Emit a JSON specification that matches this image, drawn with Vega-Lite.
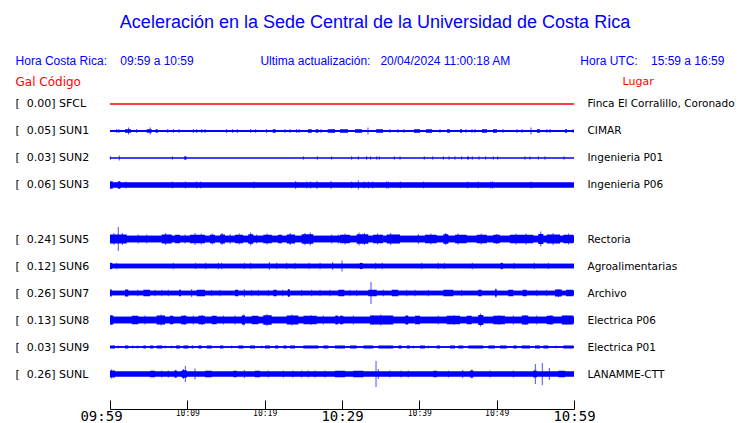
{
"$schema": "https://vega.github.io/schema/vega-lite/v6.json",
"width": 464,
"height": 298,
"padding": {"left": 15, "top": 14, "right": 0, "bottom": 0},
"background": "white",
"config": {"view": {"stroke": null}},
"title": {
 "text": "Aceleración en la Sede Central de la Universidad de Costa Rica",
 "subtitle": "Hora Costa Rica:\u00a0\u00a0\u00a0\u00a009:59 a 10:59\u00a0\u00a0\u00a0\u00a0\u00a0\u00a0\u00a0\u00a0\u00a0\u00a0\u00a0\u00a0\u00a0\u00a0\u00a0\u00a0\u00a0\u00a0\u00a0\u00a0Ultima actualización:\u00a0\u00a0\u00a020/04/2024 11:00:18 AM\u00a0\u00a0\u00a0\u00a0\u00a0\u00a0\u00a0\u00a0\u00a0\u00a0\u00a0\u00a0\u00a0\u00a0\u00a0\u00a0\u00a0\u00a0\u00a0\u00a0\u00a0Hora UTC:\u00a0\u00a0\u00a0\u00a015:59 a 16:59\u00a0\u00a0\u00a0\u2060",
 "font": "Liberation Sans", "fontSize": 18, "fontWeight": "normal", "color": "#0000ff",
 "subtitleFont": "Liberation Sans", "subtitleFontSize": 12, "subtitleColor": "#0000ff",
 "subtitlePadding": 24, "anchor": "middle", "offset": 8, "dx": 33
},
"datasets": {
 "stations": [
  {"i":0,"s":"SFCL","gal":0.00,"lugar":"Finca El Corralillo, Coronado","base":1},
  {"i":1,"s":"SUN1","gal":0.05,"lugar":"CIMAR","base":2},
  {"i":2,"s":"SUN2","gal":0.03,"lugar":"Ingenieria P01","base":1.2},
  {"i":3,"s":"SUN3","gal":0.06,"lugar":"Ingenieria P06","base":5},
  {"i":4,"s":"SUN4","gal":null,"lugar":"","base":0},
  {"i":5,"s":"SUN5","gal":0.24,"lugar":"Rectoria","base":6.5},
  {"i":6,"s":"SUN6","gal":0.12,"lugar":"Agroalimentarias","base":4.5},
  {"i":7,"s":"SUN7","gal":0.26,"lugar":"Archivo","base":4.5},
  {"i":8,"s":"SUN8","gal":0.13,"lugar":"Electrica P06","base":6.5},
  {"i":9,"s":"SUN9","gal":0.03,"lugar":"Electrica P01","base":1.5},
  {"i":10,"s":"SUNL","gal":0.26,"lugar":"LANAMME-CTT","base":5}
 ],
 "segs": [
  {"s":"SUN1","a":1.94,"b":2.72,"h":3.5},{"s":"SUN1","a":4.75,"b":5.39,"h":3.5},{"s":"SUN1","a":5.91,"b":6.17,"h":3.5},
  {"s":"SUN1","a":21.04,"b":21.43,"h":3.5},{"s":"SUN1","a":25.6,"b":26.08,"h":3.5},{"s":"SUN1","a":26.6,"b":26.94,"h":3.5},
  {"s":"SUN1","a":28.15,"b":29.1,"h":3.5},{"s":"SUN1","a":29.74,"b":30.78,"h":3.5},{"s":"SUN1","a":31.68,"b":32.59,"h":3.5},
  {"s":"SUN1","a":34.4,"b":35.3,"h":3.5},{"s":"SUN1","a":39.3,"b":40.1,"h":3.5},{"s":"SUN1","a":40.86,"b":41.64,"h":3.5},
  {"s":"SUN1","a":43.58,"b":43.97,"h":3.5},{"s":"SUN1","a":45.26,"b":45.52,"h":3.5},{"s":"SUN1","a":48.1,"b":48.75,"h":3.5},
  {"s":"SUN1","a":49.53,"b":50.04,"h":3.5},{"s":"SUN1","a":55.2,"b":55.6,"h":3.5},{"s":"SUN1","a":58.84,"b":59.1,"h":3.5},
  {"s":"SUN2","a":9.61,"b":9.87,"h":3.5},{"s":"SUN2","a":33.1,"b":33.25,"h":3},{"s":"SUN2","a":46.2,"b":46.4,"h":3},
  {"s":"SUN3","a":0,"b":0.4,"h":7},{"s":"SUN3","a":1.0,"b":1.35,"h":7},
  {"s":"SUN5","a":0,"b":2.16,"h":9},{"s":"SUN5","a":6.69,"b":7.98,"h":9},{"s":"SUN5","a":8.41,"b":9.05,"h":8.5},
  {"s":"SUN5","a":10.34,"b":12.28,"h":8.5},{"s":"SUN5","a":12.93,"b":13.58,"h":8.5},{"s":"SUN5","a":14.22,"b":14.87,"h":9},
  {"s":"SUN5","a":16.16,"b":17.2,"h":8.5},{"s":"SUN5","a":17.88,"b":18.53,"h":9.5},{"s":"SUN5","a":19.82,"b":20.91,"h":8.5},
  {"s":"SUN5","a":21.72,"b":22.24,"h":8.5},{"s":"SUN5","a":22.85,"b":23.92,"h":9},{"s":"SUN5","a":24.79,"b":26.29,"h":9.5},
  {"s":"SUN5","a":29.74,"b":31.03,"h":8.5},{"s":"SUN5","a":31.9,"b":33.4,"h":9.5},{"s":"SUN5","a":34.01,"b":35.3,"h":8.5},
  {"s":"SUN5","a":35.78,"b":37.5,"h":9},{"s":"SUN5","a":40.73,"b":42.25,"h":8.5},{"s":"SUN5","a":43.1,"b":43.75,"h":9.5},
  {"s":"SUN5","a":44.61,"b":46.13,"h":8.5},{"s":"SUN5","a":47.42,"b":48.71,"h":8.5},{"s":"SUN5","a":49.56,"b":50.43,"h":8.5},
  {"s":"SUN5","a":51.72,"b":54.74,"h":8.5},{"s":"SUN5","a":55.38,"b":56.03,"h":10},{"s":"SUN5","a":56.47,"b":58.19,"h":9},
  {"s":"SUN5","a":58.62,"b":59.91,"h":8.5},
  {"s":"SUN6","a":0,"b":0.3,"h":6},{"s":"SUN6","a":32.3,"b":32.7,"h":6},{"s":"SUN6","a":50.5,"b":50.8,"h":6},
  {"s":"SUN7","a":0,"b":0.22,"h":7},{"s":"SUN7","a":1.94,"b":2.37,"h":7},{"s":"SUN7","a":4.31,"b":5.17,"h":6.5},
  {"s":"SUN7","a":8.92,"b":9.18,"h":6.5},{"s":"SUN7","a":11.21,"b":12.28,"h":6.5},{"s":"SUN7","a":16.16,"b":16.59,"h":6.5},
  {"s":"SUN7","a":21.12,"b":21.56,"h":6.5},{"s":"SUN7","a":22.98,"b":23.27,"h":7},{"s":"SUN7","a":29.52,"b":30.3,"h":6.5},
  {"s":"SUN7","a":33.4,"b":34.49,"h":6.5},{"s":"SUN7","a":36.43,"b":37.28,"h":6.5},{"s":"SUN7","a":43.1,"b":44.39,"h":6.5},
  {"s":"SUN7","a":47.62,"b":48.06,"h":6.5},{"s":"SUN7","a":49.78,"b":50.0,"h":7},{"s":"SUN7","a":51.5,"b":52.15,"h":6.5},
  {"s":"SUN7","a":53.36,"b":53.88,"h":6.5},{"s":"SUN7","a":57.54,"b":58.41,"h":7},{"s":"SUN7","a":58.97,"b":59.91,"h":6.5},
  {"s":"SUN8","a":0,"b":0.43,"h":9},{"s":"SUN8","a":2.81,"b":3.66,"h":8.5},{"s":"SUN8","a":6.04,"b":7.11,"h":9},
  {"s":"SUN8","a":7.76,"b":8.19,"h":8.5},{"s":"SUN8","a":9.18,"b":9.92,"h":8.5},{"s":"SUN8","a":11.42,"b":12.28,"h":8.5},
  {"s":"SUN8","a":13.15,"b":13.8,"h":8.5},{"s":"SUN8","a":17.03,"b":17.46,"h":9},{"s":"SUN8","a":18.32,"b":19.18,"h":8.5},
  {"s":"SUN8","a":19.82,"b":20.91,"h":9.5},{"s":"SUN8","a":22.85,"b":24.35,"h":9},{"s":"SUN8","a":25.0,"b":26.73,"h":8.5},
  {"s":"SUN8","a":29.09,"b":29.52,"h":8.5},{"s":"SUN8","a":29.74,"b":30.17,"h":8.5},{"s":"SUN8","a":33.62,"b":36.63,"h":9},
  {"s":"SUN8","a":38.15,"b":38.57,"h":8.5},{"s":"SUN8","a":39.44,"b":40.09,"h":8.5},{"s":"SUN8","a":43.54,"b":45.26,"h":8.5},
  {"s":"SUN8","a":46.13,"b":46.77,"h":8.5},{"s":"SUN8","a":47.62,"b":48.27,"h":10},{"s":"SUN8","a":49.56,"b":51.08,"h":8.5},
  {"s":"SUN8","a":53.24,"b":54.09,"h":9},{"s":"SUN8","a":56.47,"b":57.32,"h":8.5},{"s":"SUN8","a":58.41,"b":59.91,"h":9},
  {"s":"SUN9","a":0,"b":0.65,"h":3},{"s":"SUN9","a":1.94,"b":2.37,"h":3},{"s":"SUN9","a":4.31,"b":4.62,"h":3},
  {"s":"SUN9","a":5.17,"b":5.6,"h":3},{"s":"SUN9","a":6.04,"b":6.76,"h":3},{"s":"SUN9","a":8.53,"b":9.05,"h":3},
  {"s":"SUN9","a":9.48,"b":10.13,"h":3},{"s":"SUN9","a":10.56,"b":10.77,"h":3},{"s":"SUN9","a":11.42,"b":11.86,"h":3},
  {"s":"SUN9","a":12.5,"b":13.15,"h":3},{"s":"SUN9","a":14.22,"b":14.65,"h":3},{"s":"SUN9","a":16.59,"b":17.24,"h":3},
  {"s":"SUN9","a":18.1,"b":18.75,"h":3},{"s":"SUN9","a":20.04,"b":20.69,"h":3},{"s":"SUN9","a":21.34,"b":21.76,"h":3},
  {"s":"SUN9","a":22.41,"b":22.85,"h":3},{"s":"SUN9","a":23.27,"b":23.92,"h":3},{"s":"SUN9","a":25.0,"b":26.94,"h":3},
  {"s":"SUN9","a":27.58,"b":28.23,"h":3},{"s":"SUN9","a":29.09,"b":30.39,"h":3},{"s":"SUN9","a":31.03,"b":31.9,"h":3},
  {"s":"SUN9","a":32.76,"b":34.05,"h":3},{"s":"SUN9","a":34.69,"b":36.63,"h":3},{"s":"SUN9","a":37.28,"b":37.72,"h":3},
  {"s":"SUN9","a":38.37,"b":38.79,"h":3},{"s":"SUN9","a":40.09,"b":40.73,"h":3},{"s":"SUN9","a":42.25,"b":42.67,"h":3},
  {"s":"SUN9","a":43.97,"b":44.61,"h":3},{"s":"SUN9","a":45.04,"b":45.69,"h":3},{"s":"SUN9","a":46.33,"b":48.27,"h":3},
  {"s":"SUN9","a":48.92,"b":49.78,"h":3},{"s":"SUN9","a":50.43,"b":51.3,"h":3},{"s":"SUN9","a":52.15,"b":52.59,"h":3},
  {"s":"SUN9","a":53.24,"b":54.31,"h":3},{"s":"SUN9","a":54.96,"b":55.6,"h":3},{"s":"SUN9","a":56.03,"b":56.68,"h":3},
  {"s":"SUN9","a":58.62,"b":59.91,"h":3},
  {"s":"SUNL","a":0,"b":0.65,"h":7},{"s":"SUNL","a":5.17,"b":5.82,"h":6.5},{"s":"SUNL","a":8.31,"b":8.62,"h":7},
  {"s":"SUNL","a":9.27,"b":9.92,"h":7.5},{"s":"SUNL","a":12.28,"b":13.15,"h":6.5},{"s":"SUNL","a":15.94,"b":16.38,"h":6.5},
  {"s":"SUNL","a":18.75,"b":19.4,"h":6.5},{"s":"SUNL","a":29.09,"b":30.39,"h":6.5},{"s":"SUNL","a":31.46,"b":32.76,"h":6.5},
  {"s":"SUNL","a":41.81,"b":42.25,"h":6.5},{"s":"SUNL","a":46.55,"b":46.98,"h":7},{"s":"SUNL","a":54.74,"b":55.18,"h":7},
  {"s":"SUNL","a":57.97,"b":58.84,"h":6.5}
 ],
 "spikes": [
  {"s":"SUN1","t":0.87,"h":4},{"s":"SUN1","t":1.16,"h":4},{"s":"SUN1","t":2.4,"h":7},{"s":"SUN1","t":3.45,"h":4},
  {"s":"SUN1","t":5.2,"h":7},{"s":"SUN1","t":7.46,"h":4},{"s":"SUN1","t":8.19,"h":4},{"s":"SUN1","t":8.92,"h":4},
  {"s":"SUN1","t":10.77,"h":4},{"s":"SUN1","t":11.21,"h":4},{"s":"SUN1","t":11.86,"h":4},{"s":"SUN1","t":12.29,"h":4},
  {"s":"SUN1","t":15.09,"h":4},{"s":"SUN1","t":15.87,"h":4},{"s":"SUN1","t":16.46,"h":4},{"s":"SUN1","t":18.19,"h":4},
  {"s":"SUN1","t":18.84,"h":4},{"s":"SUN1","t":20.26,"h":4},{"s":"SUN1","t":22.63,"h":4},{"s":"SUN1","t":23.27,"h":4},
  {"s":"SUN1","t":24.14,"h":4},{"s":"SUN1","t":24.44,"h":4},{"s":"SUN1","t":27.28,"h":4},{"s":"SUN1","t":33.36,"h":7},
  {"s":"SUN1","t":36.2,"h":4},{"s":"SUN1","t":37.24,"h":4},{"s":"SUN1","t":38.0,"h":4},{"s":"SUN1","t":42.67,"h":4},
  {"s":"SUN1","t":46.03,"h":4},{"s":"SUN1","t":46.81,"h":4},{"s":"SUN1","t":47.2,"h":4},{"s":"SUN1","t":50.82,"h":4},
  {"s":"SUN1","t":52.63,"h":4},{"s":"SUN1","t":53.28,"h":4},{"s":"SUN1","t":54.44,"h":7},{"s":"SUN1","t":56.5,"h":4},
  {"s":"SUN1","t":56.9,"h":4},{"s":"SUN1","t":59.87,"h":4},
  {"s":"SUN2","t":0.04,"h":3.5},{"s":"SUN2","t":1.2,"h":5},{"s":"SUN2","t":8.06,"h":3.5},{"s":"SUN2","t":25.0,"h":3.5},
  {"s":"SUN2","t":26.81,"h":3.5},{"s":"SUN2","t":28.67,"h":3.5},{"s":"SUN2","t":31.25,"h":3.5},{"s":"SUN2","t":32.11,"h":3.5},
  {"s":"SUN2","t":33.71,"h":3.5},{"s":"SUN2","t":34.49,"h":3.5},{"s":"SUN2","t":34.82,"h":3.5},{"s":"SUN2","t":36.76,"h":3.5},
  {"s":"SUN2","t":37.5,"h":3.5},{"s":"SUN2","t":40.64,"h":3.5},{"s":"SUN2","t":41.73,"h":3.5},{"s":"SUN2","t":43.1,"h":3.5},
  {"s":"SUN2","t":43.84,"h":3.5},{"s":"SUN2","t":44.61,"h":3.5},{"s":"SUN2","t":45.48,"h":3.5},{"s":"SUN2","t":46.85,"h":3.5},
  {"s":"SUN2","t":47.72,"h":3.5},{"s":"SUN2","t":48.58,"h":3.5},{"s":"SUN2","t":49.56,"h":3.5},{"s":"SUN2","t":50.13,"h":3.5},
  {"s":"SUN2","t":53.66,"h":3.5},{"s":"SUN2","t":54.31,"h":3.5},{"s":"SUN2","t":55.38,"h":3.5},{"s":"SUN2","t":56.25,"h":3.5},
  {"s":"SUN2","t":58.71,"h":3.5},
  {"s":"SUN3","t":0.13,"h":8},{"s":"SUN3","t":1.19,"h":8},{"s":"SUN3","t":2.07,"h":7},{"s":"SUN3","t":8.06,"h":7},
  {"s":"SUN3","t":9.74,"h":7},{"s":"SUN3","t":11.21,"h":7},{"s":"SUN3","t":11.73,"h":7},{"s":"SUN3","t":18.62,"h":7},
  {"s":"SUN3","t":24.01,"h":8},{"s":"SUN3","t":25.44,"h":7},{"s":"SUN3","t":25.95,"h":7},{"s":"SUN3","t":26.77,"h":8},
  {"s":"SUN3","t":28.58,"h":8},{"s":"SUN3","t":31.25,"h":7},{"s":"SUN3","t":32.11,"h":9},{"s":"SUN3","t":32.88,"h":7},
  {"s":"SUN3","t":33.4,"h":7},{"s":"SUN3","t":33.97,"h":7},{"s":"SUN3","t":35.78,"h":7},{"s":"SUN3","t":35.99,"h":7},
  {"s":"SUN3","t":37.54,"h":7},{"s":"SUN3","t":40.56,"h":7},{"s":"SUN3","t":46.25,"h":7},{"s":"SUN3","t":47.62,"h":7},
  {"s":"SUN3","t":49.23,"h":7},{"s":"SUN3","t":49.49,"h":7},{"s":"SUN3","t":54.44,"h":7},
  {"s":"SUN5","t":1.07,"h":24},{"s":"SUN5","t":0.5,"h":12},{"s":"SUN5","t":1.6,"h":12},{"s":"SUN5","t":3.66,"h":9},
  {"s":"SUN5","t":4.75,"h":9},{"s":"SUN5","t":7.2,"h":12},{"s":"SUN5","t":9.7,"h":9},{"s":"SUN5","t":11.0,"h":12},
  {"s":"SUN5","t":11.8,"h":11},{"s":"SUN5","t":13.2,"h":11},{"s":"SUN5","t":14.5,"h":12},{"s":"SUN5","t":15.52,"h":10},
  {"s":"SUN5","t":16.7,"h":11},{"s":"SUN5","t":18.2,"h":13},{"s":"SUN5","t":18.97,"h":9},{"s":"SUN5","t":20.3,"h":11},
  {"s":"SUN5","t":23.3,"h":12},{"s":"SUN5","t":25.2,"h":12},{"s":"SUN5","t":25.9,"h":13},{"s":"SUN5","t":28.67,"h":9},
  {"s":"SUN5","t":29.52,"h":9},{"s":"SUN5","t":30.4,"h":11},{"s":"SUN5","t":32.2,"h":13},{"s":"SUN5","t":32.9,"h":12},
  {"s":"SUN5","t":34.6,"h":11},{"s":"SUN5","t":36.3,"h":12},{"s":"SUN5","t":39.87,"h":10},{"s":"SUN5","t":41.5,"h":11},
  {"s":"SUN5","t":43.4,"h":12},{"s":"SUN5","t":45.0,"h":11},{"s":"SUN5","t":48.0,"h":11},{"s":"SUN5","t":50.0,"h":10},
  {"s":"SUN5","t":52.5,"h":11},{"s":"SUN5","t":53.8,"h":11},{"s":"SUN5","t":55.7,"h":15},{"s":"SUN5","t":57.3,"h":12},
  {"s":"SUN5","t":59.3,"h":11},
  {"s":"SUN6","t":0.13,"h":6.5},{"s":"SUN6","t":0.87,"h":6.5},{"s":"SUN6","t":8.19,"h":6.5},{"s":"SUN6","t":11.08,"h":6.5},
  {"s":"SUN6","t":12.38,"h":6.5},{"s":"SUN6","t":14.0,"h":6.5},{"s":"SUN6","t":14.44,"h":6.5},{"s":"SUN6","t":17.37,"h":6.5},
  {"s":"SUN6","t":18.19,"h":6.5},{"s":"SUN6","t":20.6,"h":8},{"s":"SUN6","t":21.56,"h":6.5},{"s":"SUN6","t":22.85,"h":6.5},
  {"s":"SUN6","t":23.92,"h":6.5},{"s":"SUN6","t":25.73,"h":6.5},{"s":"SUN6","t":27.16,"h":6.5},{"s":"SUN6","t":28.8,"h":8},
  {"s":"SUN6","t":30.0,"h":11},{"s":"SUN6","t":32.46,"h":6.5},{"s":"SUN6","t":34.36,"h":6.5},{"s":"SUN6","t":35.21,"h":6.5},
  {"s":"SUN6","t":40.31,"h":6.5},{"s":"SUN6","t":42.45,"h":6.5},{"s":"SUN6","t":43.23,"h":6.5},{"s":"SUN6","t":46.85,"h":6.5},
  {"s":"SUN6","t":50.65,"h":7},{"s":"SUN6","t":52.24,"h":6.5},{"s":"SUN6","t":54.87,"h":6.5},{"s":"SUN6","t":56.68,"h":6.5},
  {"s":"SUN7","t":3.58,"h":6.5},{"s":"SUN7","t":5.82,"h":6.5},{"s":"SUN7","t":6.69,"h":6.5},{"s":"SUN7","t":7.54,"h":6.5},
  {"s":"SUN7","t":10.56,"h":8},{"s":"SUN7","t":13.15,"h":6.5},{"s":"SUN7","t":14.22,"h":6.5},{"s":"SUN7","t":17.37,"h":8},
  {"s":"SUN7","t":18.32,"h":6.5},{"s":"SUN7","t":19.18,"h":6.5},{"s":"SUN7","t":20.47,"h":6.5},{"s":"SUN7","t":22.33,"h":6.5},
  {"s":"SUN7","t":23.1,"h":8},{"s":"SUN7","t":24.79,"h":6.5},{"s":"SUN7","t":26.08,"h":6.5},{"s":"SUN7","t":27.16,"h":6.5},
  {"s":"SUN7","t":28.45,"h":6.5},{"s":"SUN7","t":31.03,"h":6.5},{"s":"SUN7","t":31.9,"h":6.5},{"s":"SUN7","t":33.75,"h":22},
  {"s":"SUN7","t":35.34,"h":6.5},{"s":"SUN7","t":38.37,"h":6.5},{"s":"SUN7","t":39.44,"h":6.5},{"s":"SUN7","t":41.16,"h":6.5},
  {"s":"SUN7","t":45.48,"h":6.5},{"s":"SUN7","t":49.9,"h":9},{"s":"SUN7","t":55.18,"h":6.5},{"s":"SUN7","t":56.47,"h":6.5},
  {"s":"SUN7","t":58.0,"h":8},
  {"s":"SUN8","t":0.2,"h":10},{"s":"SUN8","t":4.53,"h":9},{"s":"SUN8","t":6.6,"h":11},{"s":"SUN8","t":9.6,"h":10},
  {"s":"SUN8","t":10.77,"h":9},{"s":"SUN8","t":11.9,"h":10},{"s":"SUN8","t":14.65,"h":9},{"s":"SUN8","t":16.16,"h":9},
  {"s":"SUN8","t":17.3,"h":11},{"s":"SUN8","t":20.3,"h":12},{"s":"SUN8","t":23.5,"h":11},{"s":"SUN8","t":26.0,"h":10},
  {"s":"SUN8","t":27.58,"h":9},{"s":"SUN8","t":29.3,"h":9},{"s":"SUN8","t":31.46,"h":9},{"s":"SUN8","t":34.0,"h":10},
  {"s":"SUN8","t":35.0,"h":11},{"s":"SUN8","t":38.4,"h":10},{"s":"SUN8","t":42.45,"h":9},{"s":"SUN8","t":44.5,"h":10},
  {"s":"SUN8","t":47.9,"h":13},{"s":"SUN8","t":50.3,"h":10},{"s":"SUN8","t":52.15,"h":9},{"s":"SUN8","t":53.7,"h":10},
  {"s":"SUN8","t":55.18,"h":9},{"s":"SUN8","t":57.0,"h":10},{"s":"SUN8","t":59.0,"h":10},
  {"s":"SUN9","t":1.07,"h":3},{"s":"SUN9","t":2.94,"h":3},{"s":"SUN9","t":3.53,"h":3},{"s":"SUN9","t":7.11,"h":3},
  {"s":"SUN9","t":7.98,"h":3},{"s":"SUN9","t":15.74,"h":3},{"s":"SUN9","t":19.62,"h":3},{"s":"SUN9","t":39.22,"h":3},
  {"s":"SUN9","t":41.16,"h":3},{"s":"SUN9","t":57.67,"h":3},
  {"s":"SUNL","t":0.2,"h":9},{"s":"SUNL","t":6.69,"h":7},{"s":"SUNL","t":7.54,"h":7},{"s":"SUNL","t":8.5,"h":8},
  {"s":"SUNL","t":9.5,"h":10},{"s":"SUNL","t":9.74,"h":16},{"s":"SUNL","t":10.99,"h":11},{"s":"SUNL","t":17.37,"h":8},
  {"s":"SUNL","t":20.47,"h":7},{"s":"SUNL","t":22.41,"h":7},{"s":"SUNL","t":23.63,"h":7},{"s":"SUNL","t":24.79,"h":7},
  {"s":"SUNL","t":25.64,"h":7},{"s":"SUNL","t":26.51,"h":7},{"s":"SUNL","t":27.8,"h":7},{"s":"SUNL","t":34.4,"h":26},
  {"s":"SUNL","t":34.69,"h":10},{"s":"SUNL","t":36.21,"h":7},{"s":"SUNL","t":37.63,"h":7},{"s":"SUNL","t":38.57,"h":7},
  {"s":"SUNL","t":43.75,"h":7},{"s":"SUNL","t":45.61,"h":8},{"s":"SUNL","t":46.8,"h":9},{"s":"SUNL","t":49.14,"h":7},
  {"s":"SUNL","t":52.15,"h":7},{"s":"SUNL","t":55.0,"h":20},{"s":"SUNL","t":55.9,"h":22},{"s":"SUNL","t":56.81,"h":12}
 ]
},
"layer": [
 {
  "layer": [
   {
    "data": {"name": "stations"},
    "transform": [{"calculate": "datum.gal == null ? '' : '[\u00a0\u00a0' + format(datum.gal, '.2f') + ']\u00a0' + datum.s", "as": "lab"}],
    "mark": {"type": "bar", "orient": "horizontal"},
    "encoding": {
     "x": {"datum": 0, "type": "quantitative",
      "scale": {"domain": [0, 60], "nice": false, "zero": false},
      "axis": {"title": null, "values": [0,5,10,15,20,25,30,35,40,45,50,55,60], "grid": false,
       "domainColor": "black", "tickColor": "black", "tickSize": -9, "offset": 21,
       "labelFont": "DejaVu Sans Mono", "labelColor": "black", "labelBaseline": "top", "labelPadding": 9,
       "labelFontSize": {"condition": {"test": "datum.value % 30 === 0", "value": 14}, "value": 8},
       "labelOffset": {"condition": {"test": "datum.value === 0", "value": -9}, "value": 0},
       "labelOverlap": false, "labelFlush": false, "labelBound": false,
       "labelExpr": "datum.value % 10 === 0 ? pad('' + floor((599 + datum.value) / 60), 2, '0', 'left') + ':' + pad('' + ((599 + datum.value) % 60), 2, '0', 'left') : ''"}},
     "x2": {"datum": 60},
     "y": {"field": "lab", "type": "nominal", "sort": {"field": "i", "op": "min"},
      "scale": {"type": "point", "padding": 0.5185},
      "axis": {"title": "Gal\u00a0Código", "titleAngle": 0, "titleAlign": "left", "titleBaseline": "middle",
       "titleX": -95, "titleY": -9, "titleColor": "#ff0000", "titleFont": "DejaVu Sans", "titleFontSize": 12, "titleFontWeight": "normal",
       "labelAlign": "left", "labelBaseline": "middle", "labelPadding": 95, "ticks": false, "domain": false, "grid": false,
       "labelFont": "DejaVu Sans", "labelFontSize": 11, "labelColor": "black"}},
     "size": {"field": "base", "type": "quantitative", "scale": {"type": "linear", "domain": [0, 30], "range": [0, 30]}, "legend": null},
     "color": {"condition": {"test": "datum.s === 'SFCL'", "value": "#ff0000"}, "value": "#0000ff"}
    }
   },
   {
    "data": {"name": "segs"},
    "transform": [
     {"lookup": "s", "from": {"data": {"name": "stations"}, "key": "s", "fields": ["i", "gal"]}},
     {"calculate": "datum.gal == null ? '' : '[\u00a0\u00a0' + format(datum.gal, '.2f') + ']\u00a0' + datum.s", "as": "lab"}
    ],
    "mark": {"type": "bar", "orient": "horizontal", "color": "#0000ff"},
    "encoding": {
     "x": {"field": "a", "type": "quantitative"},
     "x2": {"field": "b"},
     "y": {"field": "lab", "type": "nominal", "sort": {"field": "i", "op": "min"}},
     "size": {"field": "h", "type": "quantitative", "legend": null}
    }
   },
   {
    "data": {"name": "spikes"},
    "transform": [
     {"lookup": "s", "from": {"data": {"name": "stations"}, "key": "s", "fields": ["i", "gal"]}},
     {"calculate": "datum.gal == null ? '' : '[\u00a0\u00a0' + format(datum.gal, '.2f') + ']\u00a0' + datum.s", "as": "lab"}
    ],
    "mark": {"type": "tick", "orient": "vertical", "color": "#0000ff", "thickness": 1},
    "encoding": {
     "x": {"field": "t", "type": "quantitative"},
     "y": {"field": "lab", "type": "nominal", "sort": {"field": "i", "op": "min"}},
     "size": {"field": "h", "type": "quantitative", "legend": null}
    }
   }
  ]
 },
 {
  "data": {"name": "stations"},
  "mark": {"type": "bar", "orient": "horizontal"},
  "encoding": {
   "x": {"datum": 0, "type": "quantitative"},
   "x2": {"datum": 60},
   "y": {"field": "lugar", "type": "nominal", "sort": {"field": "i", "op": "min"},
    "scale": {"type": "point", "padding": 0.5185},
    "axis": {"orient": "right", "title": "Lugar", "titleAngle": 0, "titleAlign": "left", "titleBaseline": "middle",
     "titleX": 48, "titleY": -9, "titleColor": "#ff0000", "titleFont": "DejaVu Sans", "titleFontSize": 11, "titleFontWeight": "normal",
     "labelAlign": "left", "labelBaseline": "middle", "labelPadding": 13, "ticks": false, "domain": false, "grid": false,
     "labelFont": "DejaVu Sans", "labelFontSize": 10.5, "labelColor": "black"}},
   "size": {"field": "base", "type": "quantitative", "legend": null},
   "color": {"condition": {"test": "datum.s === 'SFCL'", "value": "#ff0000"}, "value": "#0000ff"}
  }
 }
],
"resolve": {"scale": {"y": "independent"}}
}
